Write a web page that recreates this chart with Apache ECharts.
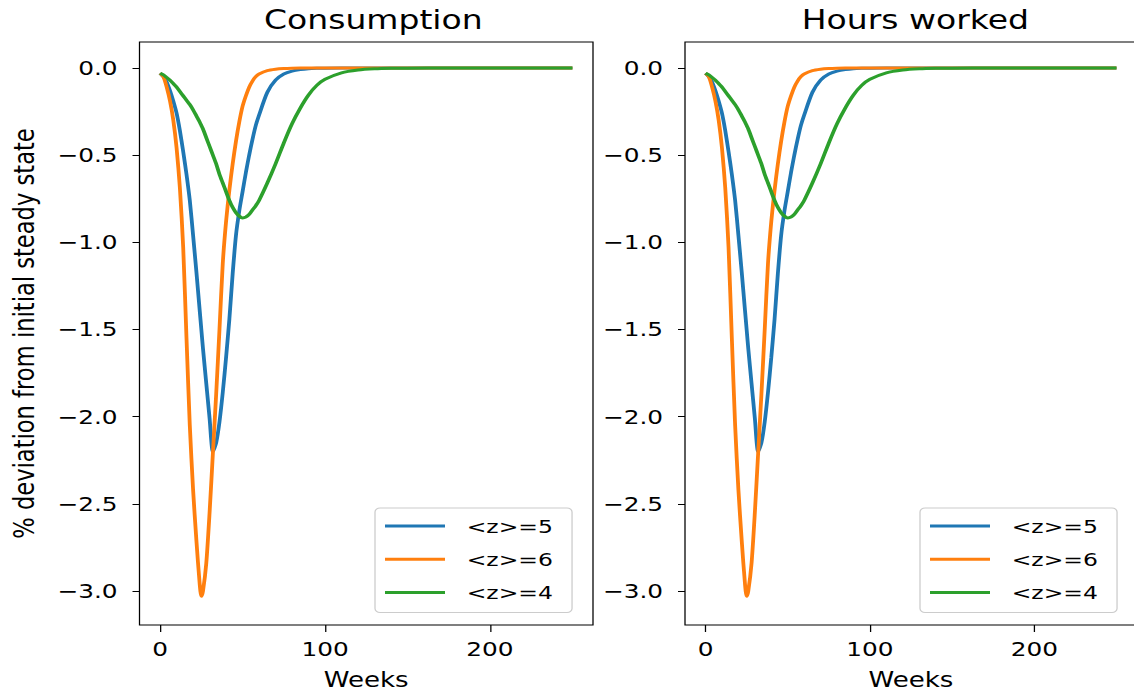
<!DOCTYPE html>
<html><head><meta charset="utf-8">
<script src="https://cdn.jsdelivr.net/npm/echarts@6/dist/echarts.min.js"></script>
<style>
html,body{margin:0;padding:0;background:#fff;overflow:hidden;width:1134px;height:696px}
#wrap{width:1134px;height:696px;overflow:hidden;position:relative;background:#fff}
#chart{position:absolute;left:0;top:0;height:696px;transform-origin:0 0}
</style></head><body>
<div id="wrap"><div id="chart"></div></div>
<script>
// ---- data ----
const weeks = [0,2,4,6,8,10,12,14,16,18,20,22,24,25,26,28,30,32,34,36,38,40,42,44,46,48,50,52,54,56,58,60,65,70,75,80,85,90,95,100,110,120,130,140,150,175,200,225,250];
const z5 = [-0.03,-0.05,-0.08,-0.13,-0.19,-0.26,-0.36,-0.48,-0.61,-0.76,-0.96,-1.17,-1.39,-1.50,-1.61,-1.81,-2.01,-2.20,-2.15,-2.03,-1.86,-1.66,-1.44,-1.18,-0.96,-0.82,-0.71,-0.60,-0.50,-0.41,-0.33,-0.27,-0.14,-0.07,-0.035,-0.018,-0.009,-0.004,-0.002,-0.001,0,0,0,0,0,0,0,0,0];
const z6 = [-0.03,-0.05,-0.11,-0.19,-0.30,-0.46,-0.69,-1.03,-1.55,-2.05,-2.42,-2.71,-2.96,-3.03,-3.00,-2.84,-2.55,-2.21,-1.87,-1.50,-1.12,-0.88,-0.70,-0.55,-0.42,-0.31,-0.22,-0.16,-0.11,-0.075,-0.05,-0.035,-0.015,-0.007,-0.003,-0.001,0,0,0,0,0,0,0,0,0,0,0,0,0];
const z4 = [-0.03,-0.04,-0.055,-0.07,-0.09,-0.11,-0.135,-0.16,-0.185,-0.21,-0.24,-0.275,-0.31,-0.33,-0.35,-0.40,-0.45,-0.50,-0.55,-0.61,-0.66,-0.71,-0.76,-0.80,-0.83,-0.85,-0.86,-0.855,-0.84,-0.815,-0.79,-0.76,-0.66,-0.55,-0.43,-0.32,-0.23,-0.155,-0.10,-0.065,-0.028,-0.012,-0.005,-0.002,-0.001,0,0,0,0];
// Hours worked panel shows the same responses as Consumption
const hoursZ5 = z5.slice();
const hoursZ6 = z6.slice();
const hoursZ4 = z4.slice();
const seriesNames = ['<z>=5','<z>=6','<z>=4'];
const panelTitles = ['Consumption','Hours worked'];
const xTickValues = [0,100,200];
const yTickValues = [-3,-2.5,-2,-1.5,-1,-0.5,0];
const yAxisTitle = '% deviation from initial steady state';
const xAxisTitle = 'Weeks';

// ---- layout ----
const S = 1.27;                 // horizontal stretch of the reference picture
const W = 1134 / S;
const X = px => px / S;
const el = document.getElementById('chart');
el.style.width = W + 'px';
el.style.transform = 'scaleX(' + S + ')';
const chart = echarts.init(el, null, {renderer: 'svg', width: W, height: 696});

const colors = ['#1f77b4','#ff7f0e','#2ca02c'];
const FONT = 'DejaVu Sans';
const panels = [
  {l: 139.5, r: 593, data: [z5, z6, z4], legendL: 375, titleC: 367},
  {l: 685, r: 1137, data: [hoursZ5, hoursZ6, hoursZ4], legendL: 920, titleC: 909}
];
const TOP = 42, BOTTOM = 625;
const YMIN = -3.195, YMAX = 0.149;

const fmtY = v => (v < 0 ? '\u2212' : '') + Math.abs(v).toFixed(1);

const option = {
  backgroundColor: '#fff',
  animation: false,
  color: colors,
  title: panels.map((p, i) => ({
    text: panelTitles[i], left: X(p.titleC), top: 2, textAlign: 'center',
    textStyle: {fontFamily: FONT, fontSize: 26, fontWeight: 'normal', color: '#000'}
  })),
  grid: panels.map(p => ({
    left: X(p.l), top: TOP, width: X(p.r - p.l), height: BOTTOM - TOP,
    show: true, borderColor: '#000', borderWidth: 1, backgroundColor: 'transparent',
    containLabel: false, outerBoundsMode: 'none'
  })),
  xAxis: panels.map((p, i) => ({
    type: 'value', gridIndex: i, min: -12.5, max: 262.5, position: 'bottom',
    name: xAxisTitle, nameLocation: 'middle', nameGap: 44,
    nameTextStyle: {fontFamily: FONT, fontSize: 20.5, color: '#000'},
    axisLine: {show: false, onZero: false},
    axisTick: {show: true, inside: false, length: 7, lineStyle: {color: '#000', width: 1}, customValues: xTickValues},
    axisLabel: {show: true, margin: 14, fontFamily: FONT, fontSize: 19.5, color: '#000', customValues: xTickValues},
    splitLine: {show: false}
  })),
  yAxis: panels.map((p, i) => ({
    type: 'value', gridIndex: i, min: YMIN, max: YMAX, position: 'left',
    name: i === 0 ? yAxisTitle : '', nameLocation: 'middle', nameRotate: 90, nameGap: X(101),
    nameTextStyle: {fontFamily: FONT, fontSize: 22.6, color: '#000'},
    axisLine: {show: false, onZero: false},
    axisTick: {show: true, inside: false, length: X(7), lineStyle: {color: '#000', width: 1}, customValues: yTickValues},
    axisLabel: {show: true, margin: X(22), fontFamily: FONT, fontSize: 19.5, color: '#000', customValues: yTickValues, formatter: fmtY},
    splitLine: {show: false}
  })),
  legend: panels.map(p => ({
    orient: 'vertical', left: X(p.legendL), top: 508,
    data: seriesNames, icon: 'rect', itemWidth: X(60), itemHeight: 3, itemGap: 13.3,
    padding: [8, X(19), 10, X(10)],
    backgroundColor: 'rgba(255,255,255,0.8)', borderColor: '#cccccc', borderWidth: 1, borderRadius: 4,
    selectedMode: false,
    textStyle: {fontFamily: FONT, fontSize: 18.5, color: '#000', lineHeight: 20, padding: [0, 0, 0, X(21.7) - 5]}
  })),
  series: []
};
panels.forEach((p, i) => {
  p.data.forEach((vals, k) => {
    option.series.push({
      type: 'line', name: seriesNames[k], xAxisIndex: i, yAxisIndex: i,
      data: weeks.map((w, j) => [w, vals[j]]),
      showSymbol: false, symbol: 'none', smooth: 0.25,
      lineStyle: {width: 3, color: colors[k]}, itemStyle: {color: colors[k]},
      z: 2 + k
    });
  });
});
chart.setOption(option);
</script>
</body></html>
